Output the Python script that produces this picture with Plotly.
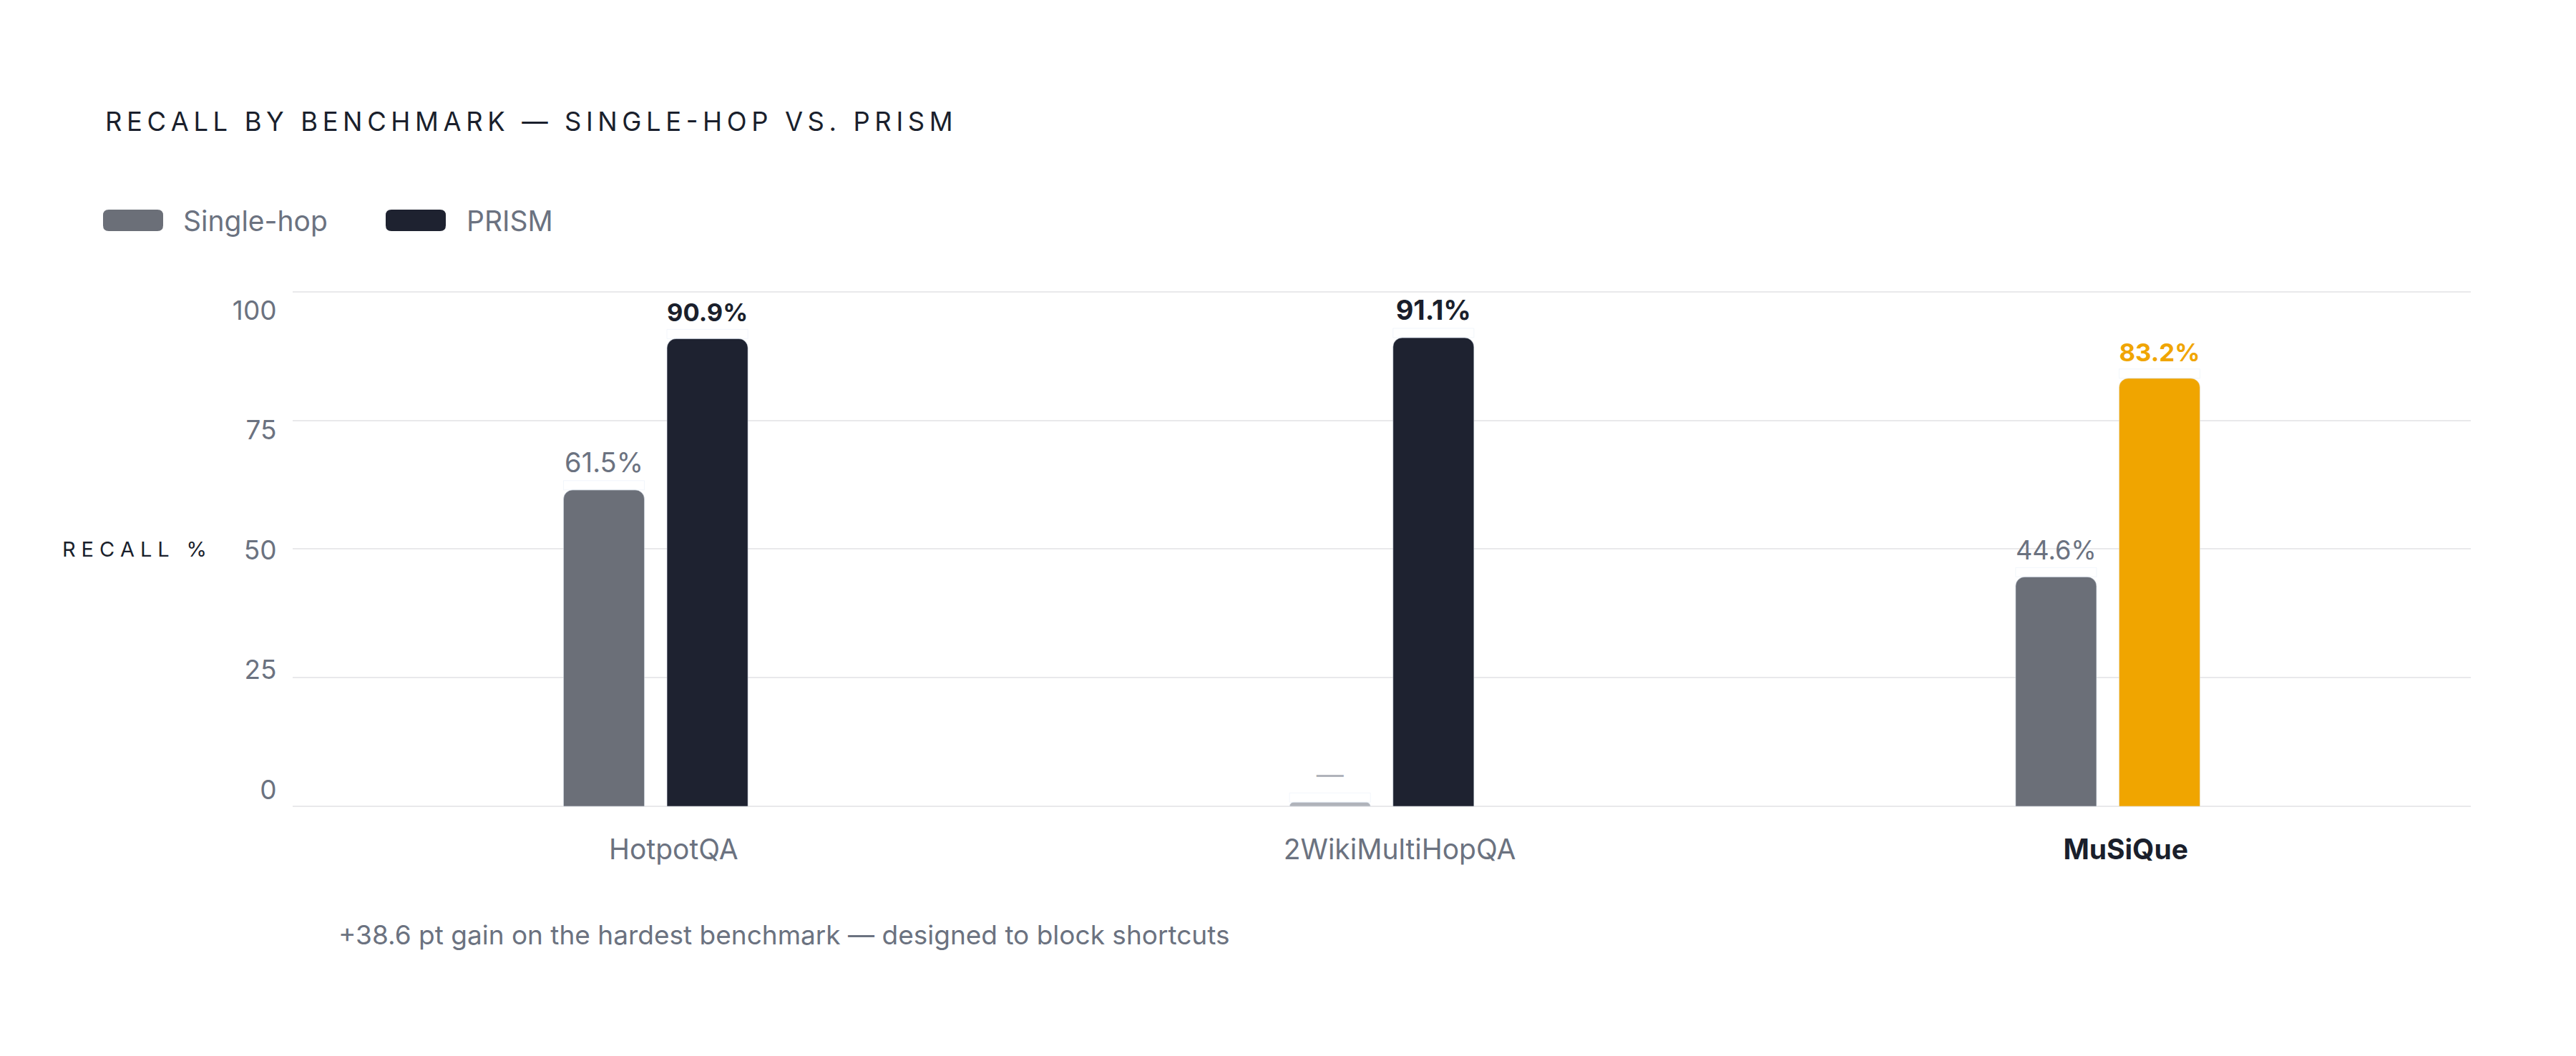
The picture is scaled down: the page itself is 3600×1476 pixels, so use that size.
import plotly.graph_objects as go

# ---------------- data ----------------
categories = ["HotpotQA", "2WikiMultiHopQA", "MuSiQue"]
single_hop = [61.5, None, 44.6]          # 2Wiki single-hop not reported
prism = [90.9, 91.1, 83.2]
y_ticks = [0, 25, 50, 75, 100]
highlight = "MuSiQue"
series_names = ["Single-hop", "PRISM"]
title_text = "RECALL BY BENCHMARK — SINGLE-HOP VS. PRISM"
y_title = "RECALL %"
footnote = "+38.6 pt gain on the hardest benchmark — designed to block shortcuts"

# ---------------- styling ----------------
W, H = 3600, 1476
L, R, T, B = 409, 147, 405, 349
PW, PH = W - L - R, H - T - B
Y_RANGE = [0, 100.4]

GRAY = "#6b6f78"
DARK = "#1e2230"
ORANGE = "#f0a500"
LIGHT = "#b0b3ba"
TXT_GRAY = "#6b7280"
TXT_DARK = "#1a1f2c"
GRID = "#e9e9eb"
FONT = "Inter"

PLACEHOLDER = 0.8   # visual stub height for a missing value
LABEL_GAP = 1.8     # space between bar top and its value label (axis units)


def px_x(px):
    return (px - L) / PW


def px_y(py):
    return (H - B - py) / PH


def spaced(s, sep="\u2009"):
    return sep.join(s)


def rrect(w, h, r):
    x0, x1, y0, y1 = -w / 2, w / 2, -h / 2, h / 2
    return (f"M {x0+r},{y0} H {x1-r} Q {x1},{y0} {x1},{y0+r} V {y1-r} "
            f"Q {x1},{y1} {x1-r},{y1} H {x0+r} Q {x0},{y1} {x0},{y1-r} "
            f"V {y0+r} Q {x0},{y0} {x0+r},{y0} Z")


sh_drawn = [v if v is not None else PLACEHOLDER for v in single_hop]
sh_colors = [GRAY if v is not None else LIGHT for v in single_hop]
sh_text = [f"{v:.1f}%" if v is not None else "—" for v in single_hop]
sh_tcolors = [TXT_GRAY if v is not None else LIGHT for v in single_hop]

pr_colors = [ORANGE if c == highlight else DARK for c in categories]
pr_text = [f"<b>{v:.1f}%</b>" for v in prism]
pr_tcolors = [ORANGE if c == highlight else TXT_DARK for c in categories]

fig = go.Figure()
fig.add_trace(go.Bar(x=categories, y=sh_drawn, name=series_names[0],
                     offsetgroup="s", marker=dict(color=sh_colors, cornerradius=13),
                     showlegend=False, hoverinfo="skip"))
fig.add_trace(go.Bar(x=categories, y=prism, name=series_names[1],
                     offsetgroup="p", marker=dict(color=pr_colors, cornerradius=13),
                     showlegend=False, hoverinfo="skip"))
# value labels: transparent bars on an overlaid twin axis, text sits above them
fig.add_trace(go.Bar(x=categories, y=[LABEL_GAP] * 3, base=sh_drawn, yaxis="y3",
                     offsetgroup="s", marker=dict(color="rgba(0,0,0,0)"),
                     text=sh_text, textposition="outside", cliponaxis=False,
                     textfont=dict(family=FONT, size=38, color=sh_tcolors),
                     showlegend=False, hoverinfo="skip"))
fig.add_trace(go.Bar(x=categories, y=[LABEL_GAP] * 3, base=prism, yaxis="y3",
                     offsetgroup="p", marker=dict(color="rgba(0,0,0,0)"),
                     text=pr_text, textposition="outside", cliponaxis=False,
                     textfont=dict(family=FONT, size=38, color=pr_tcolors),
                     showlegend=False, hoverinfo="skip"))
# carrier for the tick-label axis
fig.add_trace(go.Scatter(x=[categories[0]], y=[None], yaxis="y2", mode="markers",
                         showlegend=False, hoverinfo="skip"))

ticktext = [f"<b><span style='color:{TXT_DARK}'>{c}</span></b>" if c == highlight else c
            for c in categories]

lab_lo = (H - B - 1104) / PH
lab_hi = (H - B - 434) / PH

fig.update_layout(
    width=W, height=H,
    margin=dict(l=L, r=R, t=T, b=B, pad=0),
    paper_bgcolor="white", plot_bgcolor="rgba(0,0,0,0)",
    font=dict(family=FONT, color=TXT_GRAY),
    barmode="group", bargap=0.715, bargroupgap=0.218,
    xaxis=dict(tickmode="array", tickvals=categories, ticktext=ticktext,
               tickfont=dict(size=39, color=TXT_GRAY, family=FONT),
               showgrid=False, showline=False, zeroline=False,
               ticks="outside", ticklen=26, tickcolor="rgba(0,0,0,0)",
               ticklabelshift=25),
    yaxis=dict(range=Y_RANGE, tickvals=y_ticks, showticklabels=False,
               showgrid=True, gridcolor=GRID, gridwidth=2,
               zeroline=True, zerolinecolor=GRID, zerolinewidth=2,
               showline=False, ticks=""),
    yaxis2=dict(range=[0, 100], tickvals=y_ticks, ticktext=[str(t) for t in y_ticks],
                domain=[lab_lo, lab_hi], anchor="x",
                tickfont=dict(size=37, color=TXT_GRAY, family=FONT),
                showgrid=False, zeroline=False, showline=False,
                ticks="outside", ticklen=14, tickcolor="rgba(0,0,0,0)"),
    yaxis3=dict(range=Y_RANGE, overlaying="y", visible=False),
)

ann = []
ann.append(dict(text=spaced(title_text), x=px_x(145), y=px_y(170), xref="paper", yref="paper",
                xanchor="left", yanchor="middle", showarrow=False,
                font=dict(family=FONT, size=36.4, color=TXT_DARK)))
ann.append(dict(text=spaced(y_title, "\u2009\u200a"), x=px_x(85), y=50, xref="paper", yref="y",
                xanchor="left", yanchor="middle", showarrow=False,
                font=dict(family=FONT, size=29, color=TXT_DARK)))
ann.append(dict(text=footnote, x=px_x(471), y=px_y(1306), xref="paper", yref="paper",
                xanchor="left", yanchor="middle", showarrow=False,
                font=dict(family=FONT, size=37, color=TXT_GRAY)))

shapes = []
legend_items = [(series_names[0], GRAY, 186, 254), (series_names[1], DARK, 581, 650)]
for name, col, cx, tx in legend_items:
    shapes.append(dict(type="path", xref="paper", yref="paper",
                       xsizemode="pixel", ysizemode="pixel",
                       xanchor=px_x(cx), yanchor=px_y(308),
                       path=rrect(84, 30, 8), fillcolor=col, line=dict(width=0)))
    ann.append(dict(text=name, x=px_x(tx), y=px_y(308), xref="paper", yref="paper",
                    xanchor="left", yanchor="middle", showarrow=False,
                    font=dict(family=FONT, size=39, color=TXT_GRAY)))

fig.update_layout(annotations=ann, shapes=shapes)
fig.write_html("out.html")
